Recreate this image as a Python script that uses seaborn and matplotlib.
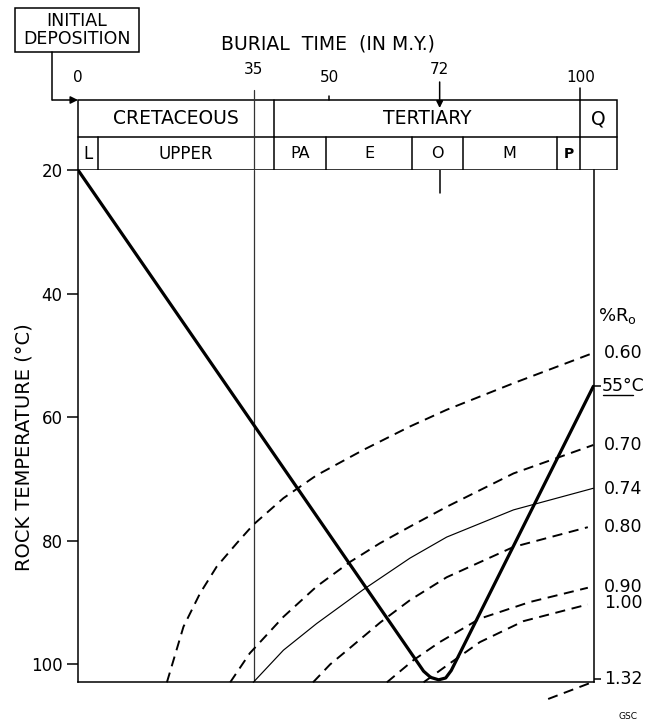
import matplotlib
matplotlib.use("Agg")
import matplotlib.pyplot as plt
from matplotlib.patches import Rectangle
import seaborn as sns


# --- data ---------------------------------------------------------------
# burial history (thick line): time in M.Y., rock temperature in deg C
burial_time = [0, 68.8, 70.2, 71.8, 73.2, 74.3, 102.6]
rock_temp = [20, 101.1, 102.1, 102.5, 102.2, 101.0, 55]

# vitrinite reflectance isolines (%Ro)
ro060_time = [17.7, 21.0, 24.3, 27.6, 31.6, 34.9, 40.9, 47.5, 56.8, 66.1, 73.4, 86.7, 102.6]
ro060_temp = [102.9, 93.9, 88.5, 84.2, 80.4, 77.4, 73.1, 69.4, 65.3, 61.5, 58.8, 54.5, 49.6]
ro070_time = [30.3, 34.2, 40.9, 47.5, 54.2, 60.1, 66.1, 73.4, 86.7, 102.6]
ro070_temp = [102.9, 98.2, 92.3, 87.4, 83.4, 80.4, 77.7, 74.5, 69.1, 64.5]
ro074_time = [34.9, 40.9, 47.5, 56.8, 66.1, 73.4, 86.7, 102.6]
ro074_temp = [102.9, 97.7, 93.4, 87.9, 82.8, 79.4, 75.0, 71.5]
ro080_time = [46.8, 50.2, 54.2, 60.2, 66.1, 73.4, 86.7, 101.5]
ro080_temp = [102.9, 100.0, 97.3, 93.2, 89.6, 85.9, 81.0, 77.8]
ro090_time = [61.5, 66.8, 72.0, 80.0, 90.0, 101.5]
ro090_temp = [102.9, 99.3, 96.4, 92.6, 89.9, 87.6]
ro100_time = [68.8, 73.4, 80.0, 88.7, 101.5]
ro100_temp = [102.9, 100.2, 96.4, 93.0, 90.3]
ro132_time = [93.6, 102.0]
ro132_temp = [105.6, 103.0]

ro_labels = ["0.60", "0.70", "0.74", "0.80", "0.90", "1.00", "1.32"]
ro_label_temp = [49.6, 64.5, 71.6, 77.8, 87.4, 90.1, 102.3]
present_temp = 55

temp_ticks = [20, 40, 60, 80, 100]
time_ticks = [0, 35, 50, 72, 100]

# geologic time scale boxes (edges in M.Y. of burial time)
periods = ["CRETACEOUS", "TERTIARY", "Q"]
period_edges = [0, 39.0, 100, 107.3]
epochs = ["L", "UPPER", "PA", "E", "O", "M", "P", ""]
epoch_edges = [0, 4.05, 39.0, 49.4, 66.5, 76.6, 95.3, 100, 107.3]


# --- layout ------------------------------------------------------------
W_PX, H_PX = 657, 725
X0_PX, X1_PX = 78, 593.5
PX_PER_MY = 5.023
T_MAX = (X1_PX - X0_PX) / PX_PER_MY


def px_box(x0, y0, x1, y1):
    return [x0 / W_PX, 1 - y1 / H_PX, (x1 - x0) / W_PX, (y1 - y0) / H_PX]


def hx(px):
    return (px - X0_PX) / PX_PER_MY


def ax_x(px):
    return (px - X0_PX) / (X1_PX - X0_PX)


sns.set_style("ticks")
plt.rcParams["font.family"] = ["DejaVu Sans"]
plt.rcParams["mathtext.fontset"] = "dejavusans"
plt.rcParams["text.color"] = "black"
plt.rcParams["axes.labelcolor"] = "black"
plt.rcParams["xtick.color"] = "black"
plt.rcParams["ytick.color"] = "black"

fig = plt.figure(figsize=(W_PX / 100, H_PX / 100), dpi=100)
ax = fig.add_axes(px_box(X0_PX, 170, X1_PX, 682.3))

# 35 M.Y. reference line and 72 M.Y. marker
ax.axvline(35, color="#333333", lw=0.9)
ax.axvline(72, ymin=1 - 23 / 512.3, ymax=1, color="black", lw=1.1)

ro_series = [
    ("0.60", ro060_time, ro060_temp),
    ("0.70", ro070_time, ro070_temp),
    ("0.74", ro074_time, ro074_temp),
    ("0.80", ro080_time, ro080_temp),
    ("0.90", ro090_time, ro090_temp),
    ("1.00", ro100_time, ro100_temp),
    ("1.32", ro132_time, ro132_temp),
]
for label, times, temps in ro_series:
    solid = label == "0.74"
    sns.lineplot(
        x=times,
        y=temps,
        ax=ax,
        color="black",
        lw=0.85 if solid else 1.4,
        linestyle="-" if solid else (0, (5.2, 3.4)),
        sort=False,
        estimator=None,
        clip_on=False,
    )

sns.lineplot(
    x=burial_time,
    y=rock_temp,
    ax=ax,
    color="black",
    lw=2.3,
    sort=False,
    estimator=None,
    solid_joinstyle="round",
    solid_capstyle="round",
)

ax.set_xlim(0, T_MAX)
ax.set_ylim(102.9, 20)
ax.set_xticks([])
ax.set_yticks(temp_ticks)
ax.tick_params(axis="y", length=8, width=1.1, pad=3, labelsize=12, colors="black")
ax.spines["top"].set_visible(False)
for side in ["left", "bottom", "right"]:
    ax.spines[side].set_linewidth(1.1)
    ax.spines[side].set_color("black")
ax.set_xlabel("")
ax.set_ylabel("")

# right-hand %Ro scale
ax_r = ax.twinx()
ax_r.set_ylim(ax.get_ylim())
ax_r.set_yticks([present_temp, ro_label_temp[-1]])
ax_r.set_yticklabels([])
ax_r.tick_params(axis="y", length=5, width=1.1, direction="out", colors="black")
for side in ax_r.spines:
    ax_r.spines[side].set_visible(False)

tf = ax.get_yaxis_transform()
for label, temp in zip(ro_labels, ro_label_temp):
    ax.text(ax_x(604), temp, label, transform=tf, ha="left", va="center", fontsize=12.5)
ax.text(ax_x(598), 43.7, "%R$_{\\rm o}$", transform=tf, ha="left", va="center", fontsize=13)
ax.text(ax_x(602), present_temp, "55°C", transform=tf, ha="left", va="center", fontsize=12.5)
ax.plot([ax_x(603), ax_x(633)], [56.4, 56.4], transform=tf, color="black", lw=1.0, clip_on=False)

fig.text(24 / W_PX, 1 - 447.5 / H_PX, "ROCK TEMPERATURE (°C)", rotation=90,
         ha="center", va="center", fontsize=14)
fig.text(627.7 / W_PX, 1 - 716.7 / H_PX, "GSC", ha="center", va="center", fontsize=6.5)

# --- header: time axis and geologic time scale ----------------------------
hd = fig.add_axes(px_box(0, 0, W_PX, 170))
hd.set_xlim(hx(0), hx(W_PX))
hd.set_ylim(170, 0)
hd.axis("off")
hd.patch.set_visible(False)

box_lw = 1.1
hd.add_patch(Rectangle((0, 100), period_edges[-1], 70, fill=False, lw=box_lw, ec="black"))
hd.plot([0, period_edges[-1]], [137, 137], color="black", lw=box_lw)
for edge in period_edges[1:-1]:
    hd.plot([edge, edge], [100, 137], color="black", lw=box_lw)
for edge in epoch_edges[1:-1]:
    hd.plot([edge, edge], [137, 170], color="black", lw=box_lw)

for name, left, right in zip(periods, period_edges[:-1], period_edges[1:]):
    hd.text((left + right) / 2, 119, name, ha="center", va="center", fontsize=13.5)
for name, left, right in zip(epochs, epoch_edges[:-1], epoch_edges[1:]):
    size = 12 if name in ("L", "UPPER") else 11.5
    weight = "bold" if name == "P" else "normal"
    if name == "P":
        size = 10
    hd.text((left + right) / 2, 154, name, ha="center", va="center",
            fontsize=size, fontweight=weight)

# time ticks above the boxes
label_y = {0: 77, 35: 70, 50: 77, 72: 70, 100: 77}
for t in time_ticks:
    hd.text(t, label_y[t], str(t), ha="center", va="center", fontsize=11)
hd.plot([35, 35], [90, 170], color="#333333", lw=0.9)
hd.plot([50, 50], [96, 100], color="black", lw=1.1)
hd.plot([100, 100], [88, 100], color="black", lw=1.1)
hd.annotate("", xy=(72, 108), xytext=(72, 82),
            arrowprops=dict(arrowstyle="-|>", color="black", lw=1.1,
                            mutation_scale=10, shrinkA=0, shrinkB=0))

hd.text((period_edges[0] + 100) / 2 - 0.2, 44, "BURIAL  TIME  (IN M.Y.)",
        ha="center", va="center", fontsize=13.5)

# initial deposition label with arrow to time zero
hd.add_patch(Rectangle((hx(15), 8), hx(139) - hx(15), 44, fill=False, lw=box_lw, ec="black"))
hd.text(hx(77), 30, "INITIAL\nDEPOSITION", ha="center", va="center",
        fontsize=12.5, linespacing=1.05)
hd.plot([hx(52.3), hx(52.3)], [52, 100], color="black", lw=box_lw)
hd.annotate("", xy=(0, 100), xytext=(hx(52.3), 100),
            arrowprops=dict(arrowstyle="-|>", color="black", lw=box_lw,
                            mutation_scale=11, shrinkA=0, shrinkB=0))

fig.savefig("out.png", dpi=100)
